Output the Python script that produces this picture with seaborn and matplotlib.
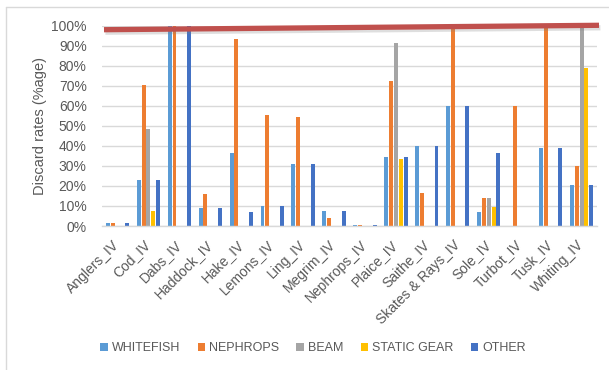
import matplotlib
matplotlib.use("Agg")
import matplotlib.pyplot as plt
import matplotlib.patheffects as pe
import matplotlib.transforms as mtransforms
import seaborn as sns
import pandas as pd

categories = ["Anglers_IV", "Cod_IV", "Dabs_IV", "Haddock_IV", "Hake_IV", "Lemons_IV",
              "Ling_IV", "Megrim_IV", "Nephrops_IV", "Plaice_IV", "Saithe_IV",
              "Skates & Rays_IV", "Sole_IV", "Turbot_IV", "Tusk_IV", "Whiting_IV"]
series = ["WHITEFISH", "NEPHROPS", "BEAM", "STATIC GEAR", "OTHER"]

whitefish = [1.5, 23, 100, 9, 36.5, 10, 31, 7.5, 0.5, 34.5, 40, 60, 7, 0, 39, 20.5]
nephrops = [1.5, 70.5, 100, 16, 93.5, 55.5, 54.5, 3.8, 0.5, 72.5, 16.5, 100, 14, 60, 100, 30]
beam = [0, 48.5, 0, 0, 0, 0, 0, 0, 0, 91.5, 0, 0, 14, 0, 0, 100]
static_gear = [0, 7.5, 0, 0, 0, 0, 0, 0, 0, 33.5, 0, 0, 9.5, 0, 0, 79]
other = [1.5, 23, 100, 9, 7, 10, 31, 7.5, 0.5, 34.5, 40, 60, 36.3, 0, 39, 20.5]

colors = ["#5B9BD5", "#ED7D31", "#A5A5A5", "#FFC000", "#4472C4"]
target_line = [98, 100.2]  # red reference line (percent), left to right

rows = []
for s, vals in zip(series, [whitefish, nephrops, beam, static_gear, other]):
    for c, v in zip(categories, vals):
        rows.append({"category": c, "series": s, "value": v / 100.0})
df = pd.DataFrame(rows)

sns.set_theme(style="white")
plt.rcParams["font.family"] = ["Liberation Sans", "DejaVu Sans"]
txt = "#595959"

fig = plt.figure(figsize=(6.09, 3.70), dpi=100)
ax = fig.add_axes([102 / 609, 144 / 370, 495 / 609, 200.3 / 370])

sns.barplot(data=df, x="category", y="value", hue="series", hue_order=series,
            palette=colors, width=0.78, gap=0.18, ax=ax, legend=True,
            saturation=1, linewidth=0, errorbar=None)

n = len(categories)
ax.set_xlim(-0.5, n - 0.5)
ax.set_ylim(0, 1.0)
ax.set_yticks([i / 10 for i in range(11)])
ax.set_yticklabels([f"{i*10}%" for i in range(11)], color=txt, fontsize=10)
ax.yaxis.grid(True, color="#D9D9D9", linewidth=1)
ax.set_axisbelow(True)
for sp in ["top", "right", "left"]:
    ax.spines[sp].set_visible(False)
ax.spines["bottom"].set_color("#D9D9D9")
ax.spines["bottom"].set_linewidth(1)
ax.tick_params(axis="y", length=0, pad=11)
ax.tick_params(axis="x", length=0, pad=12)
ax.set_xticks(range(n))
ax.set_xticklabels(categories, rotation=45, ha="right", va="center",
                   rotation_mode="anchor", color=txt, fontsize=10)
ax.set_xlabel("")
ax.set_ylabel("Discard rates (%age)", color=txt, fontsize=10.5)
ax.yaxis.set_label_coords(-(102 - 47) / 495, 0.5)

# red reference line with soft shadow
tr = mtransforms.blended_transform_factory(ax.transAxes, ax.transData)
ax.plot([2 / 495, 497 / 495], [target_line[0] / 100, target_line[1] / 100],
        color="#C0504D", linewidth=3.8, solid_capstyle="butt", clip_on=False,
        zorder=5, transform=tr,
        path_effects=[pe.SimpleLineShadow(offset=(1.0, -1.8), shadow_color="#7F7F7F", alpha=0.25),
                      pe.Normal()])

# legend
leg = ax.get_legend()
handles, labels = ax.get_legend_handles_labels()
leg.remove()
fig.legend(handles, labels, loc="center", bbox_to_anchor=(313 / 609, 1 - 348 / 370),
           ncol=5, frameon=False, fontsize=9, handlelength=0.6, handleheight=0.6,
           handletextpad=0.3, columnspacing=1.4, labelcolor=txt)

# outer chart border (left and top visible)
fig.add_artist(plt.Line2D([6 / 609, 6 / 609], [0, 1 - 7 / 370], color="#D9D9D9",
                          linewidth=1, transform=fig.transFigure))
fig.add_artist(plt.Line2D([6 / 609, 1], [1 - 7 / 370, 1 - 7 / 370], color="#D9D9D9",
                          linewidth=1, transform=fig.transFigure))

fig.savefig("out.png", dpi=100)
